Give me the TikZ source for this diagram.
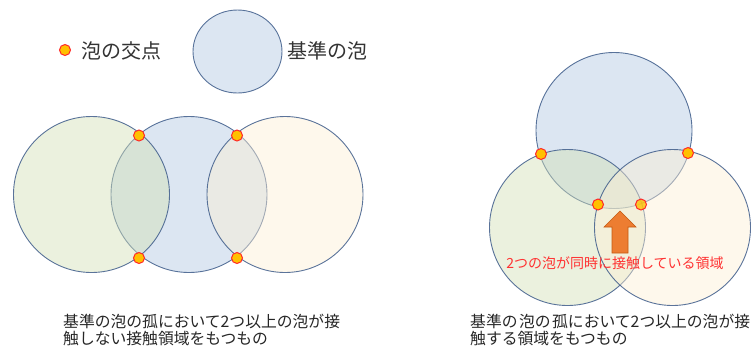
\documentclass[tikz,border=0pt]{standalone}
\usepackage{fontspec}
\newfontfamily\jp{Noto Sans CJK JP}
\usetikzlibrary{shapes.geometric}
\definecolor{bstroke}{RGB}{62,92,138}
\definecolor{bluefill}{RGB}{220,230,242}
\definecolor{greenbase}{RGB}{211,224,182}
\definecolor{creambase}{RGB}{253,239,213}
\definecolor{dotfill}{RGB}{255,192,0}
\definecolor{dotline}{RGB}{255,40,40}
\definecolor{arrowfill}{RGB}{237,125,49}
\definecolor{arrowline}{RGB}{197,90,17}
\definecolor{redtext}{RGB}{255,50,50}
\tikzset{
  bubble/.style={circle, inner sep=0pt, minimum size=156pt, draw=bstroke, line width=0.9pt, draw opacity=0.85},
  bluebub/.style={bubble, fill=bluefill},
  greenbub/.style={bubble, fill=greenbase, fill opacity=0.45},
  creambub/.style={bubble, fill=creambase, fill opacity=0.45},
  xdot/.style={circle, inner sep=0pt, minimum size=11pt, fill=dotfill, draw=dotline, line width=1pt},
  label/.style={font=\jp\fontsize{20pt}{24pt}\selectfont, anchor=west, inner sep=0pt, text=black!80},
  caption/.style={font=\jp\fontsize{15.8pt}{17pt}\selectfont, anchor=north west, inner sep=0pt, align=left, text=black!85},
}
\begin{document}
\begin{tikzpicture}[x=1pt,y=-1pt]
\useasboundingbox (0,0) rectangle (752,349);
% legend
\node[xdot] (legdot) at (65,50) {};
\node[label] (legdottext) at (81,51) {泡の交点};
\node[ellipse, inner sep=0pt, minimum width=89pt, minimum height=83pt, draw=bstroke, line width=0.9pt, draw opacity=0.85, fill=bluefill] (legbub) at (237.5,51.5) {};
\node[label] (legbubtext) at (287,51) {基準の泡};
% left group
\node[bluebub] (lmid) at (189,194.5) {};
\node[greenbub] (lleft) at (91.5,194.5) {};
\node[creambub] (lright) at (285,194.5) {};
\node[xdot] (ld1) at (139,135.5) {};
\node[xdot] (ld2) at (139,258) {};
\node[xdot] (ld3) at (237,135.5) {};
\node[xdot] (ld4) at (237,258) {};
\node[caption] (lcap) at (63,313.5) {基準の泡の孤において2つ以上の泡が接\\触しない接触領域をもつもの};
% right group
\node[bluebub] (rtop) at (614,130.5) {};
\node[greenbub] (rleft) at (567.5,227.5) {};
\node[creambub] (rright) at (672.5,227.5) {};
\node[xdot] (rd1) at (541,154) {};
\node[xdot] (rd2) at (688,153) {};
\node[xdot] (rd3) at (598,204.5) {};
\node[xdot, fill opacity=0.8] (rd4) at (641,204.5) {};
\draw[fill=arrowfill, draw=arrowline, line width=0.6pt]
  (620,211) -- (636,227) -- (628,227) -- (628,253) -- (612,253) -- (612,227) -- (604,227) -- cycle;
\node[font=\jp\fontsize{14pt}{16pt}\selectfont, text=redtext, inner sep=0pt] (rlabel) at (615,263) {2つの泡が同時に接触している領域};
\node[caption] (rcap) at (470,313.5) {基準の\hspace{1.5pt}泡の\hspace{1.5pt}孤において2つ以上の泡が接\\触する領域をもつもの};
\end{tikzpicture}
\end{document}
